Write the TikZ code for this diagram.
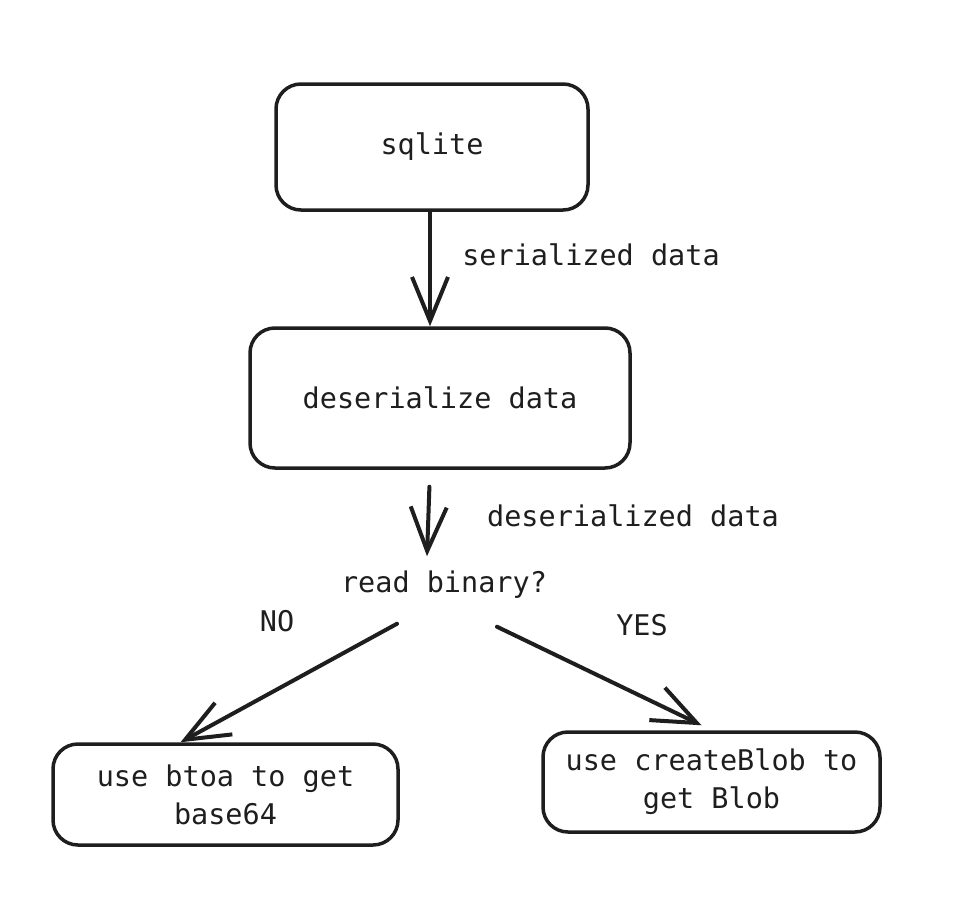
\documentclass[tikz,border=0pt]{standalone}
\usepackage{fontspec}
\newfontfamily\handfont{DejaVu Sans Mono}
\usetikzlibrary{arrows.meta}
\definecolor{ink}{HTML}{1E1E1E}
\begin{document}
\begin{tikzpicture}[x=1pt, y=-1pt, ink, line width=3.5pt,
    every node/.style={font=\handfont\fontsize{28.5}{38}\selectfont, text=ink},
    stepbox/.style={draw, rounded corners=25pt, align=center, line width=3.5pt},
    arr/.style={-{Straight Barb[length=44pt, width=36pt]}, line width=4pt, line cap=round, line join=round}]
                \useasboundingbox (0, 0) rectangle (962, 916);
                \node[stepbox, minimum width=312, minimum height=126] (sql) at (432, 147) {sqlite};
                \node[stepbox, minimum width=380, minimum height=140] (des) at (440, 398) {deserialize data};
                \node[minimum height=54] (bin) at (444, 585) {read binary?};
                \node[stepbox, minimum width=345, minimum height=101] (b64) at (225.5, 794.5) {use btoa to get\\base64};
                \node[stepbox, minimum width=337, minimum height=100] (blob) at (711.5, 782) {use createBlob to\\get Blob};

                \node (ser) at (591, 255) {serialized data};
                \node (dsl) at (633, 516) {deserialized data};
                \node (no) at (277, 621) {NO};
                \node (yes) at (642, 625) {YES};

                \draw [arr] ([xshift=-2pt]sql.south) -- ([xshift=-10pt]des.north);
                \draw [arr, shorten <=17pt] ([xshift=-10pt]des.south) -- ([xshift=-17pt]bin.north);
                \draw [arr] ([xshift=-47pt, yshift=-10pt]bin.south) -- ([xshift=-45pt]b64.north);
                \draw [arr] ([xshift=53pt, yshift=-13pt]bin.south) -- ([xshift=-10pt, yshift=5pt]blob.north);
            \end{tikzpicture}
\end{document}
